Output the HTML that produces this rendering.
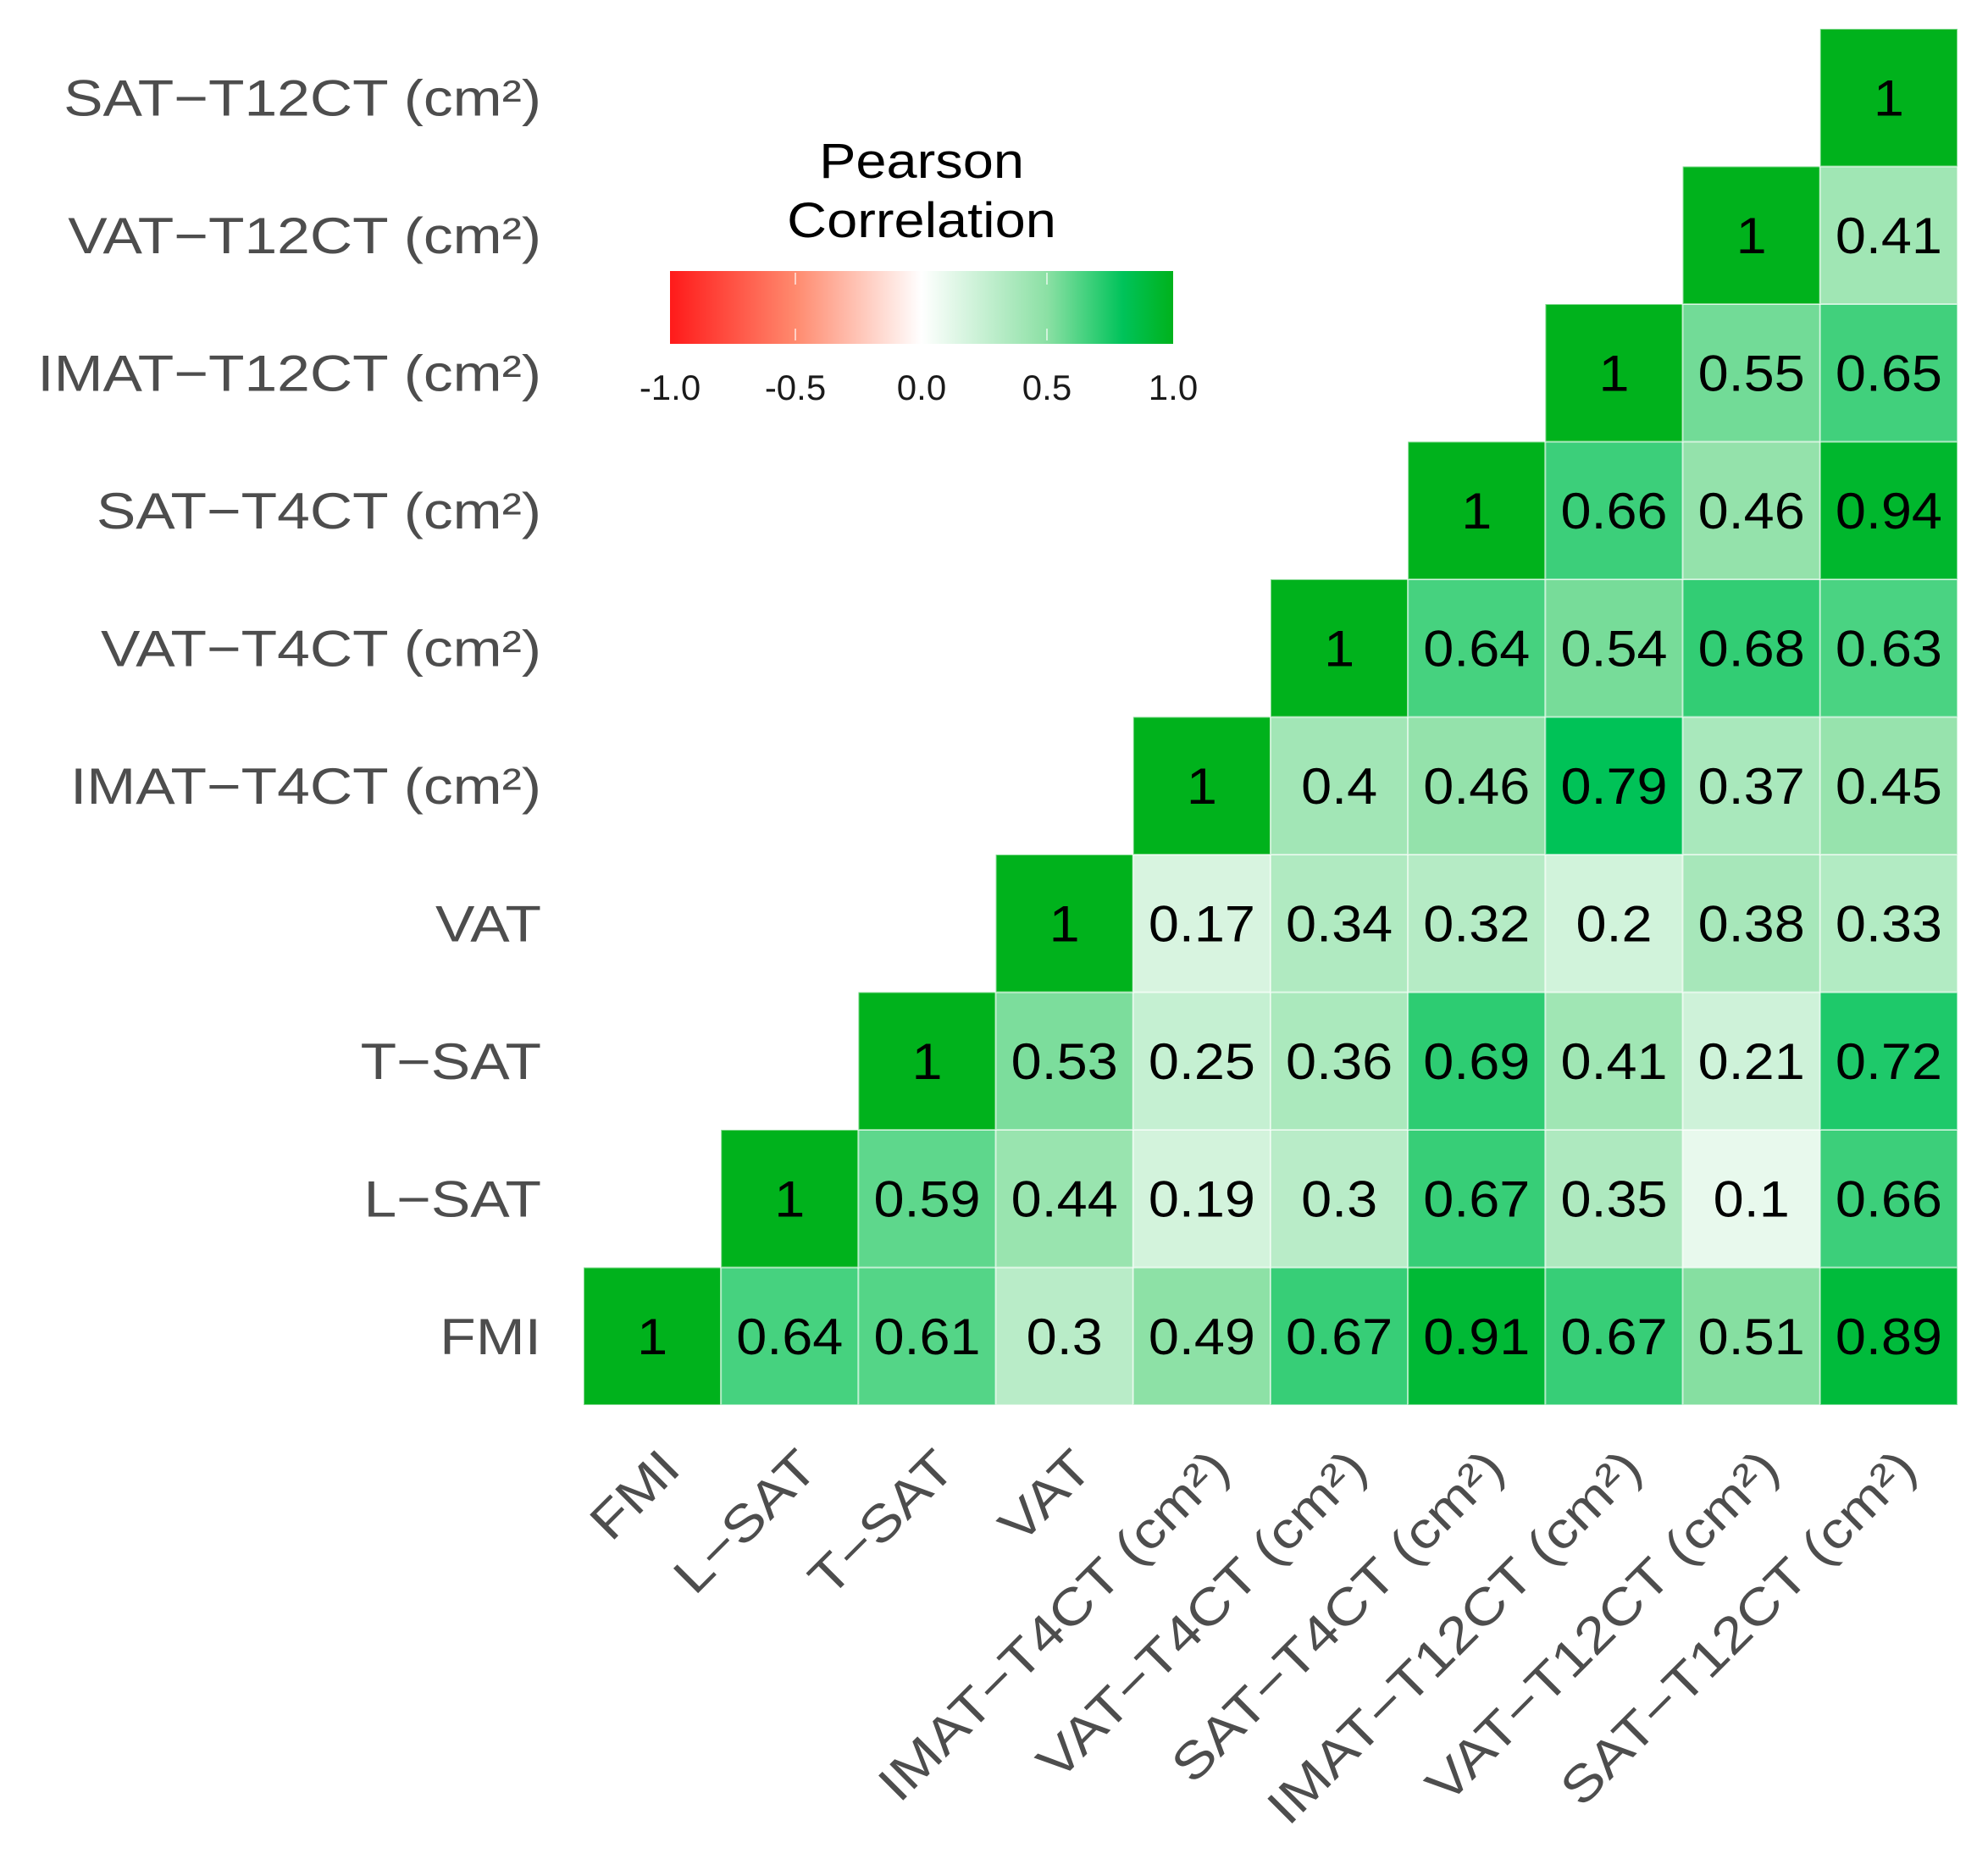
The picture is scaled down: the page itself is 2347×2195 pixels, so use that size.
<!DOCTYPE html>
<html><head><meta charset="utf-8"><style>
html,body{margin:0;padding:0;background:#fff;}
svg{display:block;font-family:"Liberation Sans",Arial,sans-serif;}
</style></head><body>
<svg id="chart" width="2347" height="2195" viewBox="0 0 2347 2195" xmlns="http://www.w3.org/2000/svg">
<defs>
<linearGradient id="lg" x1="0" x2="1" y1="0" y2="0">
<stop offset="0" stop-color="#ff1a1a"/>
<stop offset="0.25" stop-color="#ff8a6e"/>
<stop offset="0.5" stop-color="#ffffff"/>
<stop offset="0.75" stop-color="#8be0a4"/>
<stop offset="0.9" stop-color="#00c35a"/>
<stop offset="1" stop-color="#00b21c"/>
</linearGradient>
</defs>
<g id="legend">
<text transform="translate(1088 210) scale(1.12 1)" font-size="58" text-anchor="middle" fill="#000">Pearson</text>
<text transform="translate(1088 280) scale(1.12 1)" font-size="58" text-anchor="middle" fill="#000">Correlation</text>
<rect x="791" y="320" width="594" height="86" fill="url(#lg)"/>
<line x1="939" x2="939" y1="322" y2="404" stroke="#fff" stroke-opacity="0.6" stroke-width="2" stroke-dasharray="14 52"/>
<line x1="1236" x2="1236" y1="322" y2="404" stroke="#fff" stroke-opacity="0.6" stroke-width="2" stroke-dasharray="14 52"/>
<text x="791" y="472" font-size="42" text-anchor="middle" fill="#1a1a1a">-1.0</text>
<text x="939" y="472" font-size="42" text-anchor="middle" fill="#1a1a1a">-0.5</text>
<text x="1088" y="472" font-size="42" text-anchor="middle" fill="#1a1a1a">0.0</text>
<text x="1236" y="472" font-size="42" text-anchor="middle" fill="#1a1a1a">0.5</text>
<text x="1385" y="472" font-size="42" text-anchor="middle" fill="#1a1a1a">1.0</text>
</g>
<g id="cells"></g>
<g id="ylabels"></g>
<g id="xlabels"></g>
</svg>
<script>
const labels = ["FMI","L\u2212SAT","T\u2212SAT","VAT","IMAT\u2212T4CT (cm\u00b2)","VAT\u2212T4CT (cm\u00b2)","SAT\u2212T4CT (cm\u00b2)","IMAT\u2212T12CT (cm\u00b2)","VAT\u2212T12CT (cm\u00b2)","SAT\u2212T12CT (cm\u00b2)"];
const rowFMI = [1,0.64,0.61,0.3,0.49,0.67,0.91,0.67,0.51,0.89];
const rowLSAT = [1,0.59,0.44,0.19,0.3,0.67,0.35,0.1,0.66];
const rowTSAT = [1,0.53,0.25,0.36,0.69,0.41,0.21,0.72];
const rowVAT = [1,0.17,0.34,0.32,0.2,0.38,0.33];
const rowIMATT4 = [1,0.4,0.46,0.79,0.37,0.45];
const rowVATT4 = [1,0.64,0.54,0.68,0.63];
const rowSATT4 = [1,0.66,0.46,0.94];
const rowIMATT12 = [1,0.55,0.65];
const rowVATT12 = [1,0.41];
const rowSATT12 = [1];
const rows = [rowFMI,rowLSAT,rowTSAT,rowVAT,rowIMATT4,rowVATT4,rowSATT4,rowIMATT12,rowVATT12,rowSATT12];

const NS = "http://www.w3.org/2000/svg";
const X0 = 689, X1 = 2311, Y0 = 34, Y1 = 1659;
const n = labels.length;
const cw = (X1 - X0) / n, ch = (Y1 - Y0) / n;
const xPos = j => X0 + j * cw;
const yPos = i => Y1 - (i + 1) * ch;

const stops = [[0,[255,255,255]],[0.5,[139,224,164]],[0.78,[0,195,90]],[1,[0,178,28]]];
function color(v){
  v = Math.max(0, Math.min(1, v));
  for (let k = 1; k < stops.length; k++){
    if (v <= stops[k][0]){
      const a = stops[k-1], b = stops[k];
      const t = (v - a[0]) / (b[0] - a[0]);
      const c = a[1].map((x,i)=>Math.round(x + (b[1][i]-x)*t));
      return `rgb(${c[0]},${c[1]},${c[2]})`;
    }
  }
  return "rgb(0,178,28)";
}

const gc = document.getElementById("cells");
rows.forEach((row, i) => {
  row.forEach((v, k) => {
    const j = i + k;
    const r = document.createElementNS(NS, "rect");
    r.setAttribute("x", xPos(j)); r.setAttribute("y", yPos(i));
    r.setAttribute("width", cw); r.setAttribute("height", ch);
    r.setAttribute("fill", color(v));
    r.setAttribute("stroke", "#ffffff"); r.setAttribute("stroke-opacity", "0.5"); r.setAttribute("stroke-width", "2");
    
    
    gc.appendChild(r);
    const t = document.createElementNS(NS, "text");
    const tx = xPos(j) + cw/2, ty = yPos(i) + ch/2 + 21;
    t.setAttribute("transform", `translate(${tx} ${ty}) scale(1.08 1)`);
    t.setAttribute("text-anchor", "middle"); t.setAttribute("font-size", "60");
    t.setAttribute("fill", "#000");
    t.textContent = String(v);
    
    
    gc.appendChild(t);
  });
});

const gy = document.getElementById("ylabels");
const gx = document.getElementById("xlabels");
labels.forEach((lab, i) => {
  const t = document.createElementNS(NS, "text");
  t.setAttribute("transform", `translate(639 ${yPos(i) + ch/2 + 21}) scale(1.16 1)`);
  t.setAttribute("text-anchor", "end"); t.setAttribute("font-size", "60");
  t.setAttribute("fill", "#4d4d4d");
  t.textContent = lab;
  
  
  gy.appendChild(t);
  const u = document.createElementNS(NS, "text");
  const ax = xPos(i) + cw/2 + 36, ay = 1737;
  u.setAttribute("text-anchor", "end"); u.setAttribute("font-size", "60");
  u.setAttribute("fill", "#4d4d4d");
  u.setAttribute("transform", `translate(${ax} ${ay}) rotate(-45) scale(1.16 1)`);
  u.textContent = lab;
  
  
  gx.appendChild(u);
});
</script>
</body></html>
